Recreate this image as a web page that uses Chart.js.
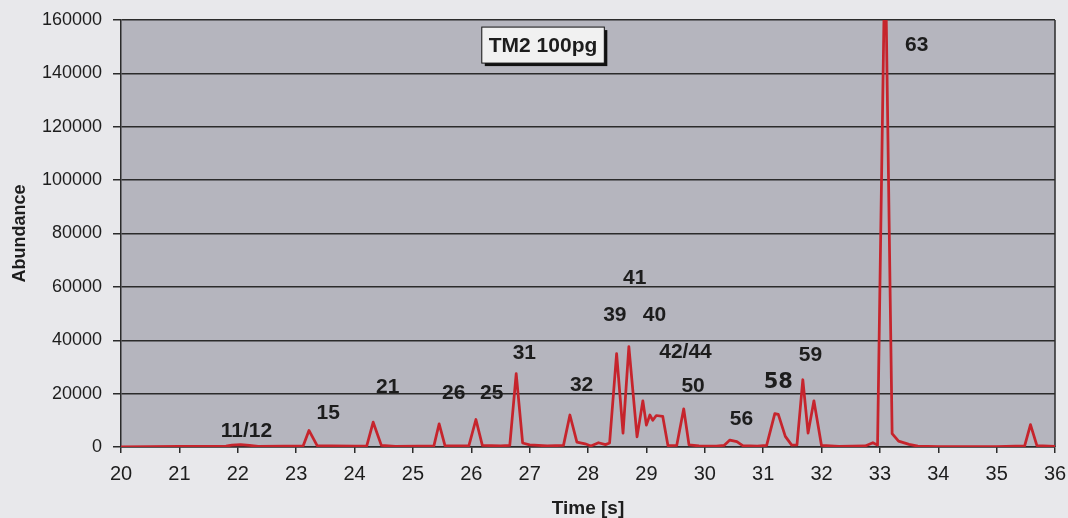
<!DOCTYPE html>
<html>
<head>
<meta charset="utf-8">
<script src="https://cdn.jsdelivr.net/npm/chart.js@4"></script>
<style>
  html, body { margin: 0; padding: 0; background: #e8e8eb; }
  #wrap { width: 1068px; height: 518px; }
</style>
</head>
<body>
<div id="wrap"><canvas id="chromChart" width="1068" height="518"></canvas></div>
<script>
// retention time [s] and abundance
const times = [
  20.0, 21.0, 21.8, 21.9, 22.05, 22.2, 22.35, 22.8, 23.12, 23.22, 23.36, 23.6,
  24.0, 24.21, 24.32, 24.46, 24.7, 25.1, 25.36, 25.45, 25.55, 25.8, 25.96, 26.08,
  26.19, 26.5, 26.66, 26.77, 26.88, 27.0, 27.3, 27.58, 27.69, 27.81, 27.95, 28.05,
  28.18, 28.3, 28.37, 28.49, 28.6, 28.7, 28.84, 28.94, 29.0, 29.06, 29.11, 29.17,
  29.28, 29.37, 29.52, 29.64, 29.73, 29.9, 30.2, 30.33, 30.43, 30.55, 30.65, 30.9,
  31.06, 31.2, 31.26, 31.38, 31.49, 31.58, 31.68, 31.77, 31.87, 32.0, 32.3, 32.75,
  32.88, 32.96, 33.09, 33.21, 33.32, 33.5, 33.65, 34.0, 35.0, 35.48, 35.58, 35.69, 36.0
];
const abundance = [
  0, 200, 300, 700, 900, 600, 200, 300, 400, 6200, 500, 400,
  300, 400, 9300, 600, 200, 300, 400, 8700, 500, 400, 500, 10300,
  600, 400, 600, 27500, 1500, 800, 400, 600, 12000, 1800, 1200, 400,
  1600, 900, 1500, 35000, 5200, 37600, 3800, 17300, 8200, 12000, 10000, 11800,
  11500, 500, 600, 14300, 800, 400, 300, 600, 2600, 2000, 500, 300,
  600, 12500, 12200, 4000, 700, 800, 25200, 5200, 17300, 600, 200, 400,
  1600, 700, 190000, 5000, 2200, 1000, 300, 100, 100, 400, 8400, 500, 200
];

const xTicks = [20, 21, 22, 23, 24, 25, 26, 27, 28, 29, 30, 31, 32, 33, 34, 35, 36];
const yTicks = [0, 20000, 40000, 60000, 80000, 100000, 120000, 140000, 160000];

// peak numbers and where their text sits (time, abundance)
const peakNames = ['11/12', '15', '21', '26', '25', '31', '32', '39', '40', '41', '42/44', '50', '56', '58', '59', '63'];
const peakLabelTimes = [22.15, 23.55, 24.57, 25.70, 26.35, 26.91, 27.89, 28.46, 29.14, 28.80, 29.67, 29.80, 30.63, 31.26, 31.81, 33.63];
const peakLabelLevels = [6100, 12800, 22300, 20100, 20100, 35300, 23300, 49500, 49500, 63200, 35500, 22900, 10600, 24200, 34500, 150600];

const sampleName = 'TM2 100pg';
const sampleAt = [27.23, 150600];

const ink = '#1d1d1d';
const gridInk = '#2b2b2b';

const chartDecor = {
  id: 'chartDecor',
  beforeDraw(chart) {
    const { ctx, chartArea: a } = chart;
    ctx.save();
    ctx.fillStyle = '#e8e8eb';
    ctx.fillRect(0, 0, chart.width, chart.height);
    ctx.fillStyle = '#b5b5be';
    ctx.fillRect(a.left, a.top, a.right - a.left, a.bottom - a.top);
    ctx.restore();
  },
  beforeDatasetsDraw(chart) {
    const { ctx, chartArea: a } = chart;
    ctx.save();
    ctx.strokeStyle = gridInk;
    ctx.lineWidth = 1.5;
    ctx.beginPath();
    ctx.moveTo(a.right, a.top);
    ctx.lineTo(a.right, a.bottom);
    ctx.stroke();
    ctx.restore();
  },
  afterDatasetsDraw(chart) {
    const { ctx } = chart;
    const xs = chart.scales.x, ys = chart.scales.y;
    ctx.save();
    ctx.fillStyle = ink;
    ctx.textAlign = 'center';
    ctx.textBaseline = 'middle';
    peakNames.forEach((name, i) => {
      ctx.font = name === '58' ? 'bold 21px "DejaVu Sans"' : 'bold 21px "Liberation Sans"';
      ctx.fillText(name, xs.getPixelForValue(peakLabelTimes[i]), ys.getPixelForValue(peakLabelLevels[i]));
    });

    // sample name box
    ctx.font = 'bold 21px "Liberation Sans"';
    const cx = xs.getPixelForValue(sampleAt[0]);
    const cy = ys.getPixelForValue(sampleAt[1]);
    const w = ctx.measureText(sampleName).width + 14;
    const h = 36;
    ctx.fillStyle = '#111';
    ctx.fillRect(cx - w / 2 + 3, cy - h / 2 + 3, w, h);
    ctx.fillStyle = '#f1f1f1';
    ctx.fillRect(cx - w / 2, cy - h / 2, w, h);
    ctx.strokeStyle = '#111';
    ctx.lineWidth = 1;
    ctx.strokeRect(cx - w / 2, cy - h / 2, w, h);
    ctx.fillStyle = ink;
    ctx.fillText(sampleName, cx, cy + 1);
    ctx.restore();
  }
};

const ctx = document.getElementById('chromChart').getContext('2d');

new Chart(ctx, {
  type: 'line',
  data: {
    datasets: [{
      data: times.map((t, i) => ({ x: t, y: abundance[i] })),
      borderColor: 'rgb(198, 36, 44)',
      borderWidth: 2.75,
      borderJoinStyle: 'round',
      pointRadius: 0,
      tension: 0,
      fill: false
    }]
  },
  options: {
    responsive: false,
    animation: false,
    layout: { padding: { left: 0, right: 13, top: 20, bottom: 0 } },
    plugins: {
      legend: { display: false },
      tooltip: { enabled: false }
    },
    scales: {
      x: {
        type: 'linear',
        min: 20,
        max: 36,
        afterBuildTicks: s => { s.ticks = xTicks.map(v => ({ value: v })); },
        afterFit: s => { s.height = 71; s.paddingLeft = 0; s.paddingRight = 0; },
        grid: { drawOnChartArea: false, color: gridInk, lineWidth: 1.5, tickLength: 6 },
        border: { display: true, color: gridInk, width: 1.5 },
        ticks: {
          color: ink,
          padding: 9,
          maxRotation: 0,
          font: { family: 'Liberation Sans', size: 20 }
        },
        title: {
          display: true,
          text: 'Time [s]',
          color: ink,
          padding: { top: 0, bottom: 0 },
          font: { family: 'Liberation Sans', size: 19, weight: 'bold', lineHeight: 1 }
        }
      },
      y: {
        min: 0,
        max: 160000,
        afterBuildTicks: s => { s.ticks = yTicks.map(v => ({ value: v })); },
        afterFit: s => { s.width = 121; s.paddingTop = 0; s.paddingBottom = 0; },
        grid: { color: gridInk, lineWidth: 1.5, tickLength: 8 },
        border: { display: true, color: gridInk, width: 1.5 },
        ticks: {
          color: ink,
          padding: 11,
          callback: v => String(v),
          font: { family: 'Liberation Sans', size: 18 }
        },
        title: {
          display: true,
          text: 'Abundance',
          color: ink,
          padding: { top: 9, bottom: 0 },
          font: { family: 'Liberation Sans', size: 18, weight: 'bold', lineHeight: 1.2 }
        }
      }
    }
  },
  plugins: [chartDecor]
});
</script>
</body>
</html>
